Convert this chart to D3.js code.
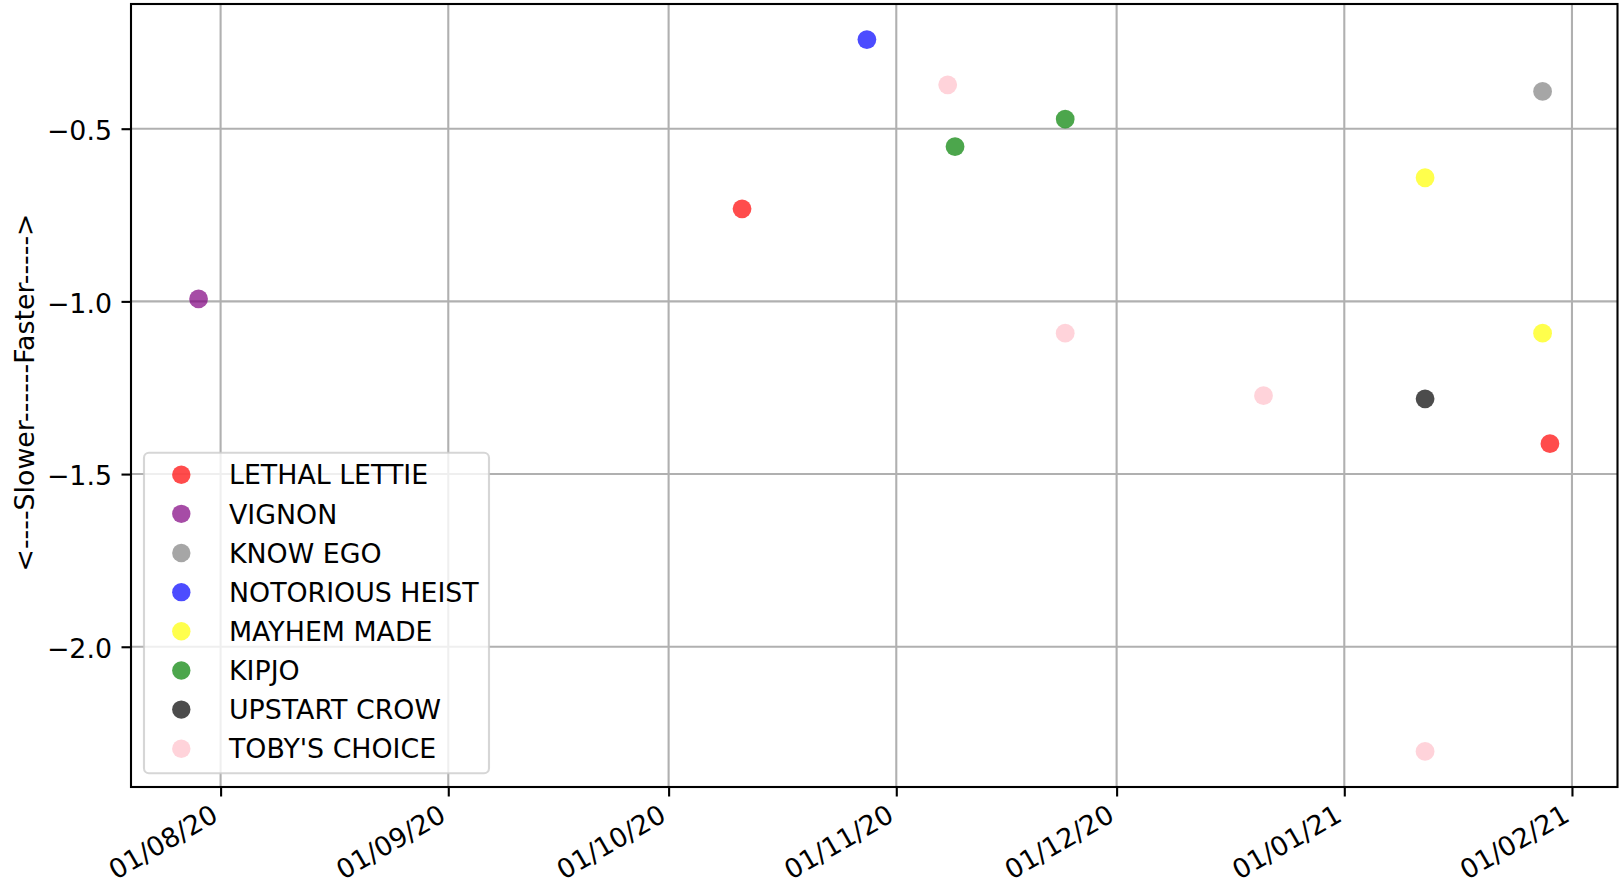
<!DOCTYPE html>
<html>
<head>
<meta charset="utf-8">
<script src="https://cdn.jsdelivr.net/npm/d3@7"></script>
<style>
  html, body { margin: 0; padding: 0; background: #fff; }
  svg { display: block; }
  text { font-family: "DejaVu Sans", sans-serif; fill: #000; }
</style>
</head>
<body>
<svg id="chart" width="1619" height="888"></svg>
<script>
// ---- data ----
const horses = ["LETHAL LETTIE", "VIGNON", "KNOW EGO", "NOTORIOUS HEIST", "MAYHEM MADE", "KIPJO", "UPSTART CROW", "TOBY'S CHOICE"];
const horseColors = ["red", "purple", "gray", "blue", "yellow", "green", "black", "pink"];

const raceHorse = ["VIGNON", "LETHAL LETTIE", "NOTORIOUS HEIST", "TOBY'S CHOICE", "KIPJO", "KIPJO", "TOBY'S CHOICE", "TOBY'S CHOICE", "MAYHEM MADE", "UPSTART CROW", "TOBY'S CHOICE", "KNOW EGO", "MAYHEM MADE", "LETHAL LETTIE"];
const raceDate  = ["2020-07-29", "2020-10-11", "2020-10-28", "2020-11-08", "2020-11-09", "2020-11-24", "2020-11-24", "2020-12-21", "2021-01-12", "2021-01-12", "2021-01-12", "2021-01-28", "2021-01-28", "2021-01-29"];
const raceValue = [-0.993, -0.732, -0.242, -0.373, -0.552, -0.472, -1.092, -1.273, -0.642, -1.282, -2.303, -0.392, -1.092, -1.412];

const xTickLabels = ["2020-08-01", "2020-09-01", "2020-10-01", "2020-11-01", "2020-12-01", "2021-01-01", "2021-02-01"];
const yTicks = [-2.0, -1.5, -1.0, -0.5];
const yLabel = "<----Slower------Faster----->";

// ---- layout ----
const plotLeft = 131, plotRight = 1617.5, plotTop = 4, plotBottom = 787;
const FS = 26.8;
const parse = d3.utcParse("%Y-%m-%d");
const points = raceDate.map((d, i) => ({ date: parse(d), value: raceValue[i], horse: raceHorse[i] }));

const colorOf = d3.scaleOrdinal().domain(horses).range(horseColors);

const dExt = d3.extent(points, p => +p.date);
const dPad = (dExt[1] - dExt[0]) * 0.05;
const x = d3.scaleUtc().domain([new Date(dExt[0] - dPad), new Date(dExt[1] + dPad)]).range([plotLeft, plotRight]);

const vExt = d3.extent(points, p => p.value);
const vPad = (vExt[1] - vExt[0]) * 0.05;
const y = d3.scaleLinear().domain([vExt[0] - vPad, vExt[1] + vPad]).range([plotBottom, plotTop]);

const svg = d3.select("#chart");
const xTickDates = xTickLabels.map(parse);

// grid
const grid = svg.append("g");
grid.selectAll("line.gx").data(xTickDates).join("line")
  .attr("x1", d => x(d)).attr("x2", d => x(d))
  .attr("y1", plotTop).attr("y2", plotBottom)
  .attr("stroke", "#b0b0b0").attr("stroke-width", 2.1);
grid.selectAll("line.gy").data(yTicks).join("line")
  .attr("x1", plotLeft).attr("x2", plotRight)
  .attr("y1", d => y(d)).attr("y2", d => y(d))
  .attr("stroke", "#b0b0b0").attr("stroke-width", 2.1);

// points, drawn series by series in legend order
const pts = svg.append("g");
horses.forEach(h => {
  pts.selectAll(null).data(points.filter(p => p.horse === h)).join("circle")
    .attr("cx", d => x(d.date)).attr("cy", d => y(d.value)).attr("r", 9.4)
    .attr("fill", colorOf(h)).attr("fill-opacity", 0.7);
});

// axes
const xAxis = svg.append("g").attr("transform", `translate(0,${plotBottom})`)
  .call(d3.axisBottom(x).tickValues(xTickDates).tickFormat(d3.utcFormat("%d/%m/%y")).tickSize(9.5).tickSizeOuter(0));
xAxis.select(".domain").remove();
xAxis.selectAll(".tick line").attr("stroke", "#000").attr("stroke-width", 2.1);
xAxis.selectAll(".tick text")
  .attr("x", 0).attr("y", 0).attr("dy", "0.73em")
  .attr("text-anchor", "end")
  .attr("transform", "translate(-11,16) rotate(-30)")
  .style("font-size", FS + "px").style("font-family", "DejaVu Sans").attr("fill", "#000");

const yAxis = svg.append("g").attr("transform", `translate(${plotLeft},0)`)
  .call(d3.axisLeft(y).tickValues(yTicks).tickFormat(d3.format(".1f")).tickSize(9.5).tickSizeOuter(0));
yAxis.select(".domain").remove();
yAxis.selectAll(".tick line").attr("stroke", "#000").attr("stroke-width", 2.1);
yAxis.selectAll(".tick text")
  .attr("x", -19).attr("dy", "0.4em")
  .attr("text-anchor", "end")
  .style("font-size", FS + "px").style("font-family", "DejaVu Sans").attr("fill", "#000");

// spines
svg.append("rect")
  .attr("x", plotLeft).attr("y", plotTop)
  .attr("width", plotRight - plotLeft).attr("height", plotBottom - plotTop)
  .attr("fill", "none").attr("stroke", "#000").attr("stroke-width", 2.1);

// y label
svg.append("text")
  .attr("transform", `translate(34,${(plotTop + plotBottom) / 2 - 3}) rotate(-90)`)
  .attr("text-anchor", "middle")
  .style("font-size", FS + "px")
  .text(yLabel);

// legend
const lg = svg.append("g");
lg.append("rect")
  .attr("x", 144).attr("y", 452.7).attr("width", 345).attr("height", 320.6)
  .attr("rx", 5).attr("ry", 5)
  .attr("fill", "#fff").attr("fill-opacity", 0.8)
  .attr("stroke", "#cccccc").attr("stroke-opacity", 0.8).attr("stroke-width", 2.1);
const rowY = d3.scaleLinear().domain([0, 1]).range([474.7, 474.7 + 39.15]);
const rows = lg.selectAll("g.row").data(horses).join("g")
  .attr("transform", (d, i) => `translate(0,${rowY(i)})`);
rows.append("circle").attr("cx", 181.3).attr("cy", 0).attr("r", 9.2)
  .attr("fill", d => colorOf(d)).attr("fill-opacity", 0.7);
rows.append("text").attr("x", 229).attr("y", 0).attr("dy", "0.36em")
  .style("font-size", FS + "px").text(d => d);
</script>
</body>
</html>
